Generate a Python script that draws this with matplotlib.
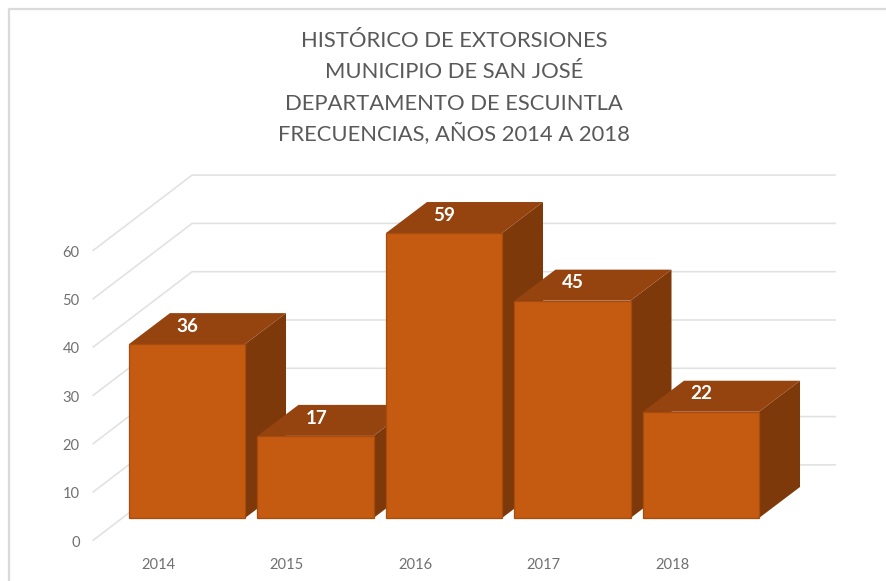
import matplotlib
matplotlib.use("Agg")
import matplotlib.pyplot as plt
from matplotlib.lines import Line2D

plt.rcParams['font.family'] = ['Lato', 'DejaVu Sans']

years = ['2014', '2015', '2016', '2017', '2018']
values = [36, 17, 59, 45, 22]
y_ticks = [0, 10, 20, 30, 40, 50, 60]
title_lines = ["HISTÓRICO DE EXTORSIONES", "MUNICIPIO DE SAN JOSÉ",
               "DEPARTAMENTO DE ESCUINTLA", "FRECUENCIAS, AÑOS 2014 A 2018"]
title_baselines = [46.7, 78, 109.5, 141.3]

W, H = 886, 581
FRONT, TOP, SIDE = '#C55A11', '#954410', '#7E390B'
EDGE = '#A64C0F'
GRID = '#E1E1E1'
BAR_W = 0.903
DX, DY = 0.319, 6.42          # bar depth in data units
WALL_L, WALL_B, WALL_R = -0.73, 0.04, 5.043
WALL_FRONT, WALL_BACK = -4.6, 11.0
LABEL_SHIFT = -0.225
TICK_SHIFT = -0.2

fig = plt.figure(figsize=(W / 100, H / 100), dpi=100, facecolor='white')
L, R, T, B = 86, 835, 170, 552
ax = fig.add_axes([L / W, 1 - B / H, (R - L) / W, (B - T) / H])
ax.set_xlim((L - 187) / 128.5, (R - 187) / 128.5)
ax.set_ylim((518 - B) / 4.83, (518 - T) / 4.83)
ax.patch.set_visible(False)
for s in ax.spines.values():
    s.set_visible(False)

# walls
for v in y_ticks:
    ax.plot([WALL_L, WALL_B, WALL_R], [v + WALL_FRONT, v + WALL_BACK, v + WALL_BACK],
            color=GRID, lw=1.15, zorder=1, clip_on=False, solid_joinstyle='miter')

# bars
for i, v in enumerate(values):
    z = 2 + i
    x0, x1 = i - BAR_W / 2, i + BAR_W / 2
    ax.fill([x1, x1 + DX, x1 + DX, x1], [0, DY, v + DY, v], color=SIDE, lw=0, zorder=z)
    ax.fill([x0, x1, x1 + DX, x0 + DX], [v, v, v + DY, v + DY], color=TOP, lw=0, zorder=z)
    ax.bar(i, v, width=BAR_W, color=FRONT, edgecolor=EDGE, linewidth=0.9, zorder=z + 0.5)
    ax.text(i + 0.005, v + 3.7, str(v), ha='center', va='center', color='white',
            fontsize=13.6, fontweight='bold', zorder=20)

ax.set_xticks([i + LABEL_SHIFT for i in range(len(years))], years)
ax.set_yticks([v + WALL_FRONT + TICK_SHIFT for v in y_ticks], [str(v) for v in y_ticks])
ax.tick_params(axis='both', length=0, labelcolor='#707070', labelsize=10.6)
ax.tick_params(axis='x', pad=4)
ax.tick_params(axis='y', pad=4.5)

for line, base in zip(title_lines, title_baselines):
    fig.text(454 / W, 1 - base / H, line, ha='center', va='baseline', color='#595959',
             fontsize=15.8)

# frame of the picture
fig.add_artist(Line2D([9 / W, 9 / W, 1], [0, 1 - 9 / H, 1 - 9 / H],
                      transform=fig.transFigure, color='#DADADA', lw=1.6))

fig.savefig('out.png', dpi=100)
